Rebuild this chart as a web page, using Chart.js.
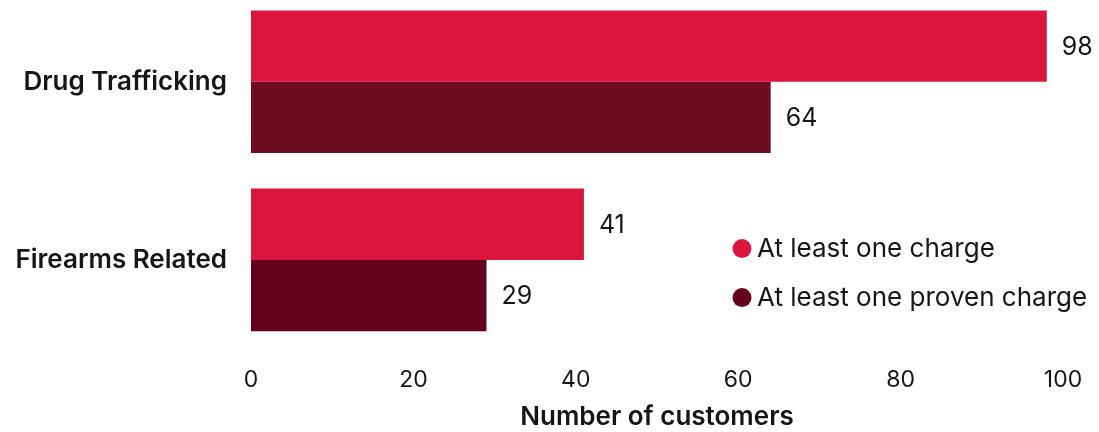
<!DOCTYPE html>
<html lang="en">
<head>
  <meta charset="UTF-8" />
  <title>Customers by charge type</title>
  <script src="https://cdn.jsdelivr.net/npm/chart.js@4.4.0/dist/chart.umd.min.js"></script>
  <style>
    html, body { margin: 0; padding: 0; background: #fff; overflow: hidden; }
    #wrap { position: relative; width: 1099px; height: 472px; top: -39px; }
  </style>
</head>
<body>
  <div id="wrap"><canvas id="grafico"></canvas></div>

<script>
  // datos del grafico
  const categorias = ['Drug Trafficking', 'Firearms Related'];
  const series = ['At least one charge', 'At least one proven charge'];
  const alMenosUno = [98, 41];
  const probados = [64, 29];
  const ticksX = [0, 20, 40, 60, 80, 100];

  const rojo = '#DA163D';
  const granate = ['#6E0C20', '#64001D'];
  const fuente = "Inter, 'Noto Sans', sans-serif";
  const tinta = '#161616';

  // etiquetas de valor al final de cada barra
  const etiquetasValor = {
    id: 'etiquetasValor',
    afterDatasetsDraw(chart) {
      const ctx = chart.ctx;
      ctx.save();
      ctx.font = `400 25px ${fuente}`;
      ctx.fillStyle = tinta;
      ctx.textBaseline = 'middle';
      ctx.textAlign = 'left';
      chart.data.datasets.forEach((ds, i) => {
        chart.getDatasetMeta(i).data.forEach((bar, j) => {
          ctx.fillText(ds.data[j], bar.x + 15, bar.y + 1);
        });
      });
      ctx.restore();
    }
  };

  // leyenda con circulos dentro del area
  const leyenda = {
    id: 'leyenda',
    afterDraw(chart) {
      const ctx = chart.ctx;
      const area = chart.chartArea;
      ctx.save();
      ctx.font = `400 26px ${fuente}`;
      ctx.textBaseline = 'middle';
      const x = area.left + 491, y0 = area.top + 256, paso = 49;
      chart.data.datasets.forEach((ds, i) => {
        const y = y0 + i * paso;
        ctx.fillStyle = i === 0 ? rojo : granate[1];
        ctx.beginPath();
        ctx.arc(x, y, 9.5, 0, Math.PI * 2);
        ctx.fill();
        ctx.fillStyle = tinta;
        ctx.fillText(ds.label, x + 15, y + 1);
      });
      ctx.restore();
    }
  };

  new Chart(document.getElementById('grafico'), {
    type: 'bar',
    data: {
      labels: categorias,
      datasets: [
        { label: series[0], data: alMenosUno, backgroundColor: rojo },
        { label: series[1], data: probados, backgroundColor: granate }
      ]
    },
    options: {
      indexAxis: 'y',
      responsive: true,
      maintainAspectRatio: false,
      animation: false,
      datasets: { bar: { categoryPercentage: 0.8, barPercentage: 1.0 } },
      layout: { padding: { top: 0, right: 36, left: 0, bottom: 0 } },
      plugins: { legend: { display: false }, tooltip: { enabled: false } },
      scales: {
        x: {
          min: 0,
          max: 100,
          afterBuildTicks: s => { s.ticks = ticksX.map(v => ({ value: v })); },
          afterFit: s => { s.height = 84; },
          grid: { display: false },
          border: { display: false },
          ticks: { padding: 9, color: tinta, font: { family: fuente, size: 23 } },
          title: {
            display: true,
            text: 'Number of customers',
            color: tinta,
            padding: { top: 10, bottom: 0 },
            font: { family: fuente, size: 26, weight: '600' }
          }
        },
        y: {
          afterFit: s => { s.width = 251; },
          grid: { display: false },
          border: { display: false },
          ticks: { padding: 16, color: tinta, font: { family: fuente, size: 26, weight: '600' } }
        }
      }
    },
    plugins: [etiquetasValor, leyenda]
  });
</script>
</body>
</html>
